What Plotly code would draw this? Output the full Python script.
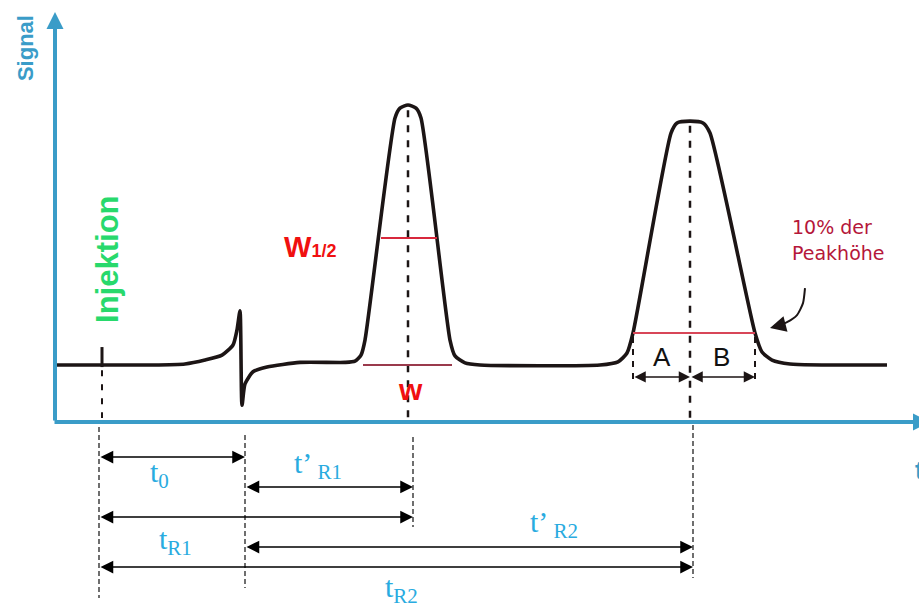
import plotly.graph_objects as go

# ---- data (time t in arbitrary units, signal s in % of peak-1 height) ----
curve_t = [-4.5, 5.0, 8.5, 10.5, 12.2, 13.3, 13.7, 14.0, 14.2, 14.5, 15.3, 16.7, 20.0,
           24.5, 25.5, 26.1, 26.5, 29.5, 30.0, 30.8, 31.6, 32.1, 35.0, 35.5, 36.5, 38.0,
           50.0, 51.8, 52.7, 53.3, 57.1, 57.7, 59.0, 60.3, 61.0, 65.5, 66.2, 67.2, 69.0, 78.7]
curve_s = [0, 0, 0.4, 1.9, 3.8, 7.7, 13.5, 20.8, -15.5, -7.3, -2.6, -0.8, 1.0,
           1.0, 1.5, 3.8, 9.6, 95, 98.8, 100, 98.8, 95, 9.6, 3.5, 0.8, 0,
           0, 1.2, 4.6, 12.3, 89.2, 93.1, 93.8, 93.1, 89.2, 12.3, 5.0, 1.9, 0.4, 0]

t_injection = 0.2
t_marks = [-0.1, 14.5, 31.3, 59.3]      # injection, t0, tR1, tR2 on the time scale below
peak1_t, peak2_t = 30.8, 59.0
half_height = 48.8
ten_percent = 12.3
w12_t = [28.1, 33.7]
w_t = [26.3, 35.2]
ab_t = [53.3, 59.0, 65.5]
axis_s = -21.9
axis_t = -4.5

arrow_rows = {"t0": (0, 1, -35.4), "t'R1": (1, 2, -46.9), "tR1": (0, 2, -58.5),
              "t'R2": (1, 3, -70.0), "tR2": (0, 3, -77.7)}

AX_BLUE = "#3a9cc8"
CYAN = "#29abe0"
INK = "#1c1515"

fig = go.Figure()

def line(xs, ys, color, width, dash=None, shape="linear"):
    fig.add_trace(go.Scatter(x=xs, y=ys, mode="lines", hoverinfo="skip", cliponaxis=False,
                             line=dict(color=color, width=width, dash=dash, shape=shape,
                                       smoothing=0.6 if shape == "spline" else None)))

# chromatogram
line(curve_t, curve_s, INK, 3.6, shape="spline")
# injection tick
line([t_injection, t_injection], [6.9, -0.8], INK, 3)
# dashed verticals above axis
line([t_injection, t_injection], [-2.0, -20.4], INK, 2, "6px,8px")
line([peak1_t, peak1_t], [98, axis_s], INK, 2.5, "7px,8px")
line([peak2_t, peak2_t], [92, axis_s], INK, 2.5, "7px,8px")
for tx in (ab_t[0], ab_t[2]):
    line([tx, tx], [10.8, -7.3], INK, 2, "6px,6px")

# red width lines
line(w12_t, [half_height, half_height], "#d8283c", 2)
line(w_t, [0, 0], "#9a3a4c", 2)
line([ab_t[0], ab_t[2]], [ten_percent, ten_percent], "#d84658", 2)

# dashed verticals below axis
low_ends = [(-23.8, -89.6), (-26.9, -85.8), (-27.7, -62.3), (-23.1, -81.9)]
for tx, (y0, y1) in zip(t_marks, low_ends):
    line([tx, tx], [y0, y1], "#222222", 1.3, "5px,3px")

# curved pointer towards the 10% line
line([70.5, 70.3, 69.7, 68.7, 67.6], [29.6, 23.8, 19.2, 16.5, 15.0], INK, 2, shape="spline")

ann = []

def arrow(x0, y0, x1, y1, color="black", w=1.5, size=1.6, both=True):
    ann.append(dict(x=x1, y=y1, ax=x0, ay=y0, xref="x", yref="y", axref="x", ayref="y",
                    text="", showarrow=True, arrowhead=2, startarrowhead=2,
                    arrowside="end+start" if both else "end", arrowsize=size,
                    arrowwidth=w, arrowcolor=color, standoff=0, startstandoff=0))

for name, (i0, i1, yy) in arrow_rows.items():
    arrow(t_marks[i0], yy, t_marks[i1], yy, size=1.7)
arrow(ab_t[0], -4.6, ab_t[1], -4.6, color=INK, size=1.5)
arrow(ab_t[1], -4.6, ab_t[2], -4.6, color=INK, size=1.5)
# head of curved pointer
arrow(67.8, 15.0, 67.0, 14.2, color=INK, w=2, size=1.6, both=False)
# axes with arrowheads
arrow(axis_t, axis_s, axis_t, 135.8, color=AX_BLUE, w=4, size=0.85, both=False)
arrow(axis_t - 0.2, axis_s, 83.0, axis_s, color=AX_BLUE, w=4, size=0.85, both=False)

def label(x, y, text, size, color, family="Liberation Sans", xanchor="center", angle=0):
    ann.append(dict(x=x, y=y, xref="x", yref="y", text=text, showarrow=False,
                    xanchor=xanchor, yanchor="middle", textangle=angle,
                    font=dict(size=size, color=color, family=family)))

SERIF = "Liberation Serif"
label(4.8, -42.0, "t<sub>0</sub>", 30, CYAN, SERIF, "left")
label(19.2, -38.5, "t’<sub> R1</sub>", 30, CYAN, SERIF, "left")
label(5.7, -67.5, "t<sub>R1</sub>", 30, CYAN, SERIF, "left")
label(42.8, -61.0, "t’<sub> R2</sub>", 30, CYAN, SERIF, "left")
label(28.3, -86.3, "t<sub>R2</sub>", 30, CYAN, SERIF, "left")

label(81.3, -40.4, "<b>t</b>", 26, AX_BLUE, "Liberation Sans", "left")
label(-7.5, 121.9, "<b>Signal</b>", 22, AX_BLUE, angle=-90)
label(0.8, 40.4, "<b>Injektion</b>", 31, "#28d96c", angle=-90)
label(18.2, 45.4, "<b>W<span style='font-size:18px'>1/2</span></b>", 29, "#f01010", xanchor="left")
label(31.0, -9.5, "<b>w</b>", 30, "#f01010")
label(56.2, 3.1, "A", 26, "#111111")
label(62.1, 3.1, "B", 26, "#111111")
label(69.0, 53.1, "10% der", 19, "#b5173a", family="DejaVu Sans", xanchor="left")
label(69.0, 43.1, "Peakhöhe", 19, "#b5173a", family="DejaVu Sans", xanchor="left")

fig.update_layout(
    width=919, height=608, autosize=False,
    margin=dict(l=0, r=0, t=0, b=0, pad=0),
    paper_bgcolor="white", plot_bgcolor="white",
    showlegend=False, annotations=ann,
    xaxis=dict(range=[-10.0, 81.9], visible=False, fixedrange=True),
    yaxis=dict(range=[-93.46, 140.38], visible=False, fixedrange=True),
)
fig.write_html("out.html", config={"displayModeBar": False},
               post_script="document.body.style.margin='0px';document.body.style.overflow='hidden';")
